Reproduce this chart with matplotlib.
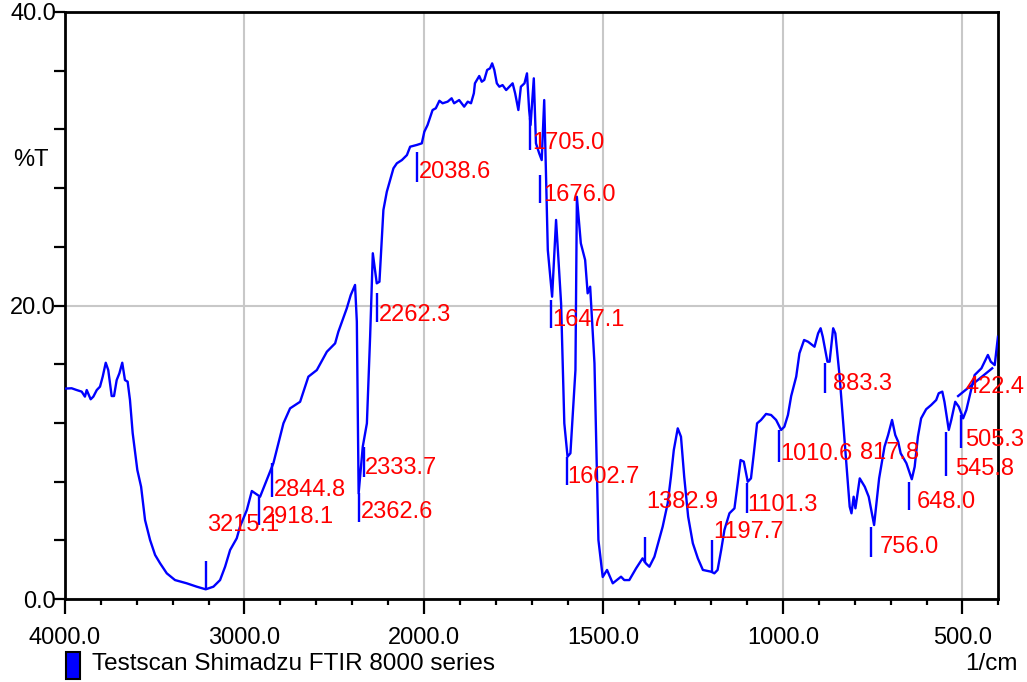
import numpy as np
import matplotlib
matplotlib.use("Agg")
import matplotlib.pyplot as plt
from matplotlib.patches import Rectangle

plt.rcParams['font.family'] = ['Liberation Sans', 'DejaVu Sans']

# spectrum: wavenumber (1/cm) and %T
wavenumber = [3997, 3963, 3935, 3907, 3889, 3879, 3857, 3842, 3823, 3805,
              3790, 3773, 3759, 3740, 3727, 3712, 3697, 3681, 3666, 3651,
              3638, 3623, 3597, 3576, 3554, 3526, 3498, 3470, 3433, 3387,
              3322, 3266, 3216, 3173, 3136, 3108, 3080, 3043, 3025, 2987,
              2959, 2913, 2876, 2839, 2802, 2783, 2746, 2690, 2644, 2597,
              2541, 2495, 2477, 2430, 2408, 2384, 2374, 2364, 2356, 2341,
              2318, 2300, 2285, 2263, 2248, 2226, 2207, 2170, 2151, 2123,
              2095, 2077, 2040, 2012, 1999, 1990, 1976, 1967, 1957, 1948,
              1934, 1923, 1916, 1902, 1888, 1878, 1869, 1861, 1858, 1846,
              1839, 1832, 1824, 1816, 1810, 1804, 1797, 1790, 1781, 1771,
              1762, 1753, 1746, 1737, 1730, 1720, 1713, 1707, 1703, 1694,
              1688, 1679, 1672, 1665, 1655, 1643, 1632, 1618, 1609, 1600,
              1592, 1578, 1574, 1563, 1551, 1544, 1537, 1525, 1514, 1502,
              1490, 1474, 1451, 1442, 1428, 1409, 1391, 1382, 1372, 1358,
              1335, 1321, 1312, 1304, 1293, 1284, 1275, 1264, 1251, 1237,
              1223, 1200, 1191, 1182, 1172, 1163, 1149, 1135, 1126, 1118,
              1109, 1098, 1089, 1081, 1072, 1061, 1047, 1033, 1019, 1005,
              996, 986, 977, 963, 954, 941, 930, 912, 902, 895,
              889, 876, 870, 860, 854, 842, 814, 809, 803, 798,
              786, 772, 761, 746, 732, 717, 707, 696, 687, 679,
              672, 656, 641, 633, 624, 615, 601, 587, 573, 566,
              556, 550, 538, 531, 520, 510, 498, 489, 477, 466,
              447, 429, 421, 410, 401]
transmittance = [14.34, 14.36, 14.24, 14.13, 13.79, 14.24, 13.61, 13.79, 14.24, 14.47,
                 15.15, 16.10, 15.60, 13.83, 13.83, 14.92, 15.38, 16.10, 14.92, 14.81,
                 13.56, 11.31, 8.79, 7.65, 5.38, 4.02, 3.00, 2.43, 1.75, 1.29,
                 1.07, 0.84, 0.66, 0.84, 1.29, 2.20, 3.34, 4.14, 4.93, 6.06,
                 7.36, 6.97, 8.11, 9.25, 11.06, 11.97, 12.99, 13.44, 15.15, 15.60,
                 16.85, 17.42, 18.21, 19.81, 20.71, 21.40, 18.90, 7.20, 8.33, 10.38,
                 11.97, 17.87, 23.56, 21.51, 21.62, 26.51, 27.75, 29.35, 29.69, 29.91,
                 30.25, 30.82, 30.94, 31.05, 31.84, 32.30, 33.32, 33.44, 33.95, 33.78,
                 33.89, 34.12, 33.78, 34.00, 33.55, 33.89, 33.78, 34.46, 35.14, 35.64,
                 35.25, 35.37, 36.05, 36.16, 36.50, 36.05, 35.14, 34.91, 35.02, 34.68,
                 34.91, 35.14, 34.46, 33.32, 34.91, 35.14, 35.82, 33.32, 32.30, 35.48,
                 31.05, 30.37, 29.91, 34.00, 23.78, 20.60, 25.83, 20.15, 11.97, 9.70,
                 9.93, 15.60, 27.41, 24.24, 23.10, 20.83, 21.28, 16.06, 4.02, 1.50,
                 1.98, 1.07, 1.52, 1.29, 1.29, 2.09, 2.77, 2.43, 2.20, 2.88,
                 4.93, 6.52, 8.33, 10.15, 11.63, 11.06, 8.33, 5.61, 3.80, 2.77,
                 1.98, 1.86, 1.75, 1.98, 3.34, 4.70, 5.84, 6.18, 7.88, 9.47,
                 9.36, 7.99, 8.22, 9.93, 11.97, 12.20, 12.61, 12.54, 12.20, 11.52,
                 11.74, 12.54, 13.83, 15.15, 16.74, 17.65, 17.53, 17.19, 18.10, 18.45,
                 17.87, 16.17, 16.17, 18.45, 18.10, 15.15, 6.29, 5.84, 6.97, 6.18,
                 8.22, 7.65, 6.97, 5.04, 8.22, 10.38, 11.17, 12.20, 11.17, 10.72,
                 9.93, 9.25, 8.16, 9.01, 11.06, 12.31, 12.93, 13.22, 13.56, 14.02,
                 14.13, 13.44, 11.52, 12.20, 13.44, 13.10, 12.31, 12.88, 14.13, 15.26,
                 15.72, 16.63, 16.17, 15.94, 17.87]

# peak picks: label value, marker line from/to (%T)
peaks = [3215.1, 2918.1, 2844.8, 2362.6, 2333.7, 2262.3, 2038.6, 1705.0, 1676.0,
         1647.1, 1602.7, 1382.9, 1197.7, 1101.3, 1010.6, 883.3, 817.8, 756.0,
         648.0, 545.8, 505.3, 422.4]
marker_lo = [0.66, 5.04, 6.97, 5.27, 8.33, 18.90, 28.44, 30.60, 26.96, 18.45, 7.77,
             2.43, 1.77, 5.86, 9.36, 14.02, np.nan, 2.88, 6.06, 8.40, 10.27, np.nan]
marker_hi = [2.61, 6.97, 9.25, 7.20, 10.38, 20.85, 30.48, 32.78, 28.89, 20.37, 9.70,
             4.25, 4.02, 7.90, 11.52, 16.08, np.nan, 4.93, 7.99, 11.40, 12.54, np.nan]
# label placement: vertical centre (%T) and horizontal shift in pixels
label_y = [5.04, 5.62, 7.43, 5.95, 8.96, 19.37, 29.12, 31.05, 27.53, 19.01, 8.33,
           6.58, 4.59, 6.41, 9.87, 14.64, 9.93, 3.51, 6.58, 8.85, 10.83, 14.47]
label_dx = [1, 3, 1.5, 1.5, 0.5, 1.5, 2, 2, 2.5, 1.5, 0.5,
            0.5, 1.5, 0.5, 1.5, 8, 11.5, 9.5, 7.5, 9, 5, -25]
# leader line drawn for 422.4 (wavenumber, %T)
leader_wn = [512, 417]
leader_t = [13.83, 15.72]

x_major = [4000, 3000, 2000, 1500, 1000, 500]
x_minor = list(range(3800, 2000, -200)) + list(range(1900, 399, -100))
y_major = [0, 20, 40]
y_minor = [4, 8, 12, 16, 24, 28, 32, 36]


def fwd(x):
    x = np.asarray(x, dtype=float)
    return np.where(x >= 2000, x, 2 * x - 2000)


def inv(u):
    u = np.asarray(u, dtype=float)
    return np.where(u >= 2000, u, (u + 2000) / 2)


blue = '#0000ff'
red = '#ff0000'
fs = 17

fig = plt.figure(figsize=(10.27, 6.82), dpi=100)
ax = fig.add_axes([65 / 1027, 1 - 599 / 682, 933.3 / 1027, 587 / 682])
ax.set_xscale('function', functions=(fwd, inv))
ax.set_xlim(4000, 400)
ax.set_ylim(0, 40)

ax.set_xticks(x_major)
ax.set_xticklabels([f'{v:.1f}' for v in x_major])
ax.set_xticks([v for v in x_minor if v not in x_major], minor=True)
ax.set_yticks(y_major)
ax.set_yticklabels([f'{v:.1f}' for v in y_major])
ax.set_yticks(y_minor, minor=True)

ax.grid(True, which='major', color='#c8c8c8', linewidth=1.5, zorder=0)
ax.set_axisbelow(True)

for s in ax.spines.values():
    s.set_linewidth(2.0)

ax.tick_params(axis='x', which='major', length=11, width=1.6, pad=9, labelsize=fs)
ax.tick_params(axis='x', which='minor', length=4.5, width=1.6)
ax.tick_params(axis='y', which='both', length=8, width=1.6, pad=-1.5, labelsize=fs)

ax.plot(wavenumber, transmittance, color=blue, linewidth=1.7, zorder=3)
ax.vlines(peaks, marker_lo, marker_hi, color=blue, linewidth=1.7, zorder=3)
ax.plot(leader_wn, leader_t, color=blue, linewidth=1.7, zorder=3)

for wn, ly, dx in zip(peaks, label_y, label_dx):
    ax.annotate(f'{wn:.1f}', xy=(wn, ly), xytext=(dx * 0.72, 0),
                textcoords='offset points', ha='left', va='center',
                color=red, fontsize=fs, zorder=4)

fig.text(13 / 1027, 1 - 160 / 682, '%T', fontsize=fs, va='center', ha='left')
fig.add_artist(Rectangle((66 / 1027, 1 - 679 / 682), 14 / 1027, 27 / 682,
                         transform=fig.transFigure, facecolor=blue,
                         edgecolor='black', linewidth=1.5))
fig.text(92 / 1027, 1 - 664 / 682, 'Testscan Shimadzu FTIR 8000 series',
         fontsize=17.5, va='center', ha='left')
fig.text(1018 / 1027, 1 - 664 / 682, '1/cm', fontsize=17.5, va='center', ha='right')

fig.savefig('out.png', dpi=100)
